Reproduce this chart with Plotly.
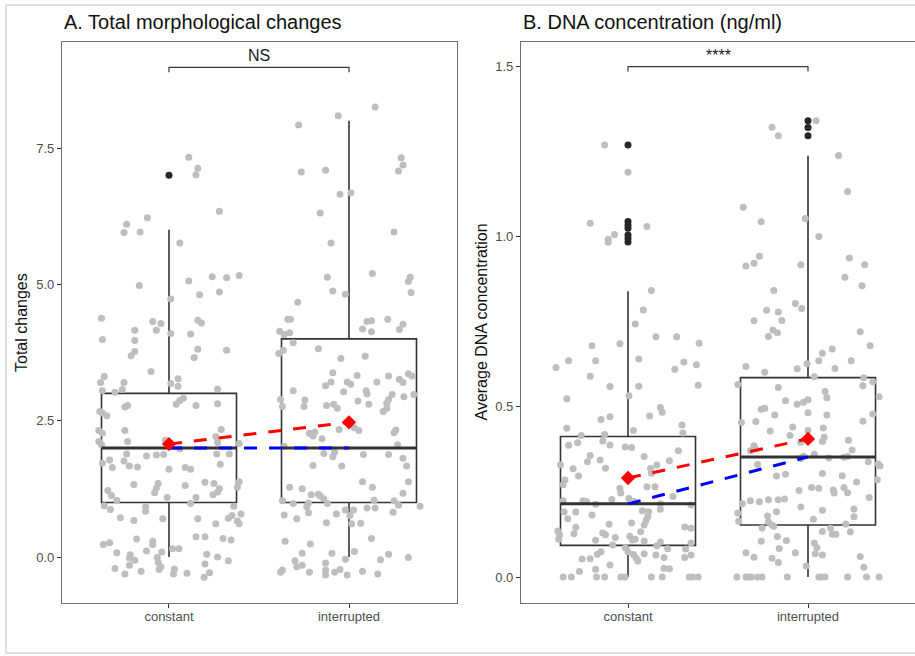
import plotly.graph_objects as go

# ---------------- data ----------------
groups = ["constant", "interrupted"]
positions = [1, 2]

# Panel A: (horizontal jitter offset, jittered total changes)
a_constant_points = [
    (0.11, 7.33), (0.16, 7.13), (0.15, 7.01), (0.28, 6.34), (-0.12, 6.22), (-0.235, 6.10), (-0.25, 5.95),
    (-0.16, 5.96), (0.06, 5.76), (-0.165, 4.98), (0.11, 5.06), (0.24, 5.14), (0.32, 5.12), (0.39, 5.16),
    (0.17, 4.81), (0.28, 4.86), (0.01, 4.73), (-0.375, 4.38), (-0.09, 4.32), (-0.045, 4.28), (0.16, 4.34),
    (0.18, 4.29), (-0.19, 4.16), (-0.07, 4.16), (-0.37, 3.99), (-0.19, 3.97), (0.01, 4.10), (0.12, 4.09),
    (-0.19, 3.77), (-0.21, 3.69), (0.16, 3.81), (0.14, 3.66), (0.32, 3.79), (-0.10, 3.40),
    (-0.36, 3.31), (-0.38, 3.20), (-0.25, 3.20), (0.01, 3.18), (0.05, 3.27), (0.05, 3.13), (-0.26, 3.07),
    (-0.37, 3.05), (-0.30, 3.02), (0.27, 3.08), (0.08, 2.91), (0.06, 2.87), (0.04, 2.80), (0.15, 2.78),
    (0.27, 2.81), (-0.23, 2.78), (-0.245, 2.75), (-0.385, 2.67), (-0.37, 2.64), (-0.345, 2.59),
    (-0.245, 2.32), (-0.39, 2.32), (-0.37, 2.27), (0.29, 2.34), (0.26, 2.21), (-0.23, 2.12), (-0.39, 2.12),
    (-0.375, 2.06), (-0.02, 2.14), (0.27, 2.10), (0.39, 2.08), (0.06, 1.98), (-0.235, 1.89), (-0.125, 1.85),
    (-0.07, 1.87), (-0.03, 1.88), (0.265, 1.89), (0.335, 1.89), (-0.33, 1.78), (-0.37, 1.72), (-0.25, 1.76),
    (-0.22, 1.67), (-0.315, 1.64), (-0.175, 1.65), (0.285, 1.70), (0.0, 1.61), (0.09, 1.64), (0.12, 1.61),
    (-0.195, 1.33), (-0.06, 1.35), (-0.07, 1.26), (-0.08, 1.18), (0.09, 1.31), (0.20, 1.37), (0.25, 1.35),
    (0.28, 1.25), (0.27, 1.19), (0.245, 1.14), (0.39, 1.38), (0.38, 1.28), (-0.34, 1.22), (-0.32, 1.13),
    (-0.29, 1.04), (-0.01, 1.09), (0.15, 1.09), (0.12, 0.98), (-0.36, 0.94), (-0.325, 0.87), (-0.13, 0.92),
    (-0.13, 0.84), (0.36, 0.93), (0.40, 0.79), (0.35, 0.76), (0.33, 0.71), (0.38, 0.66), (0.39, 0.61),
    (-0.27, 0.72), (-0.195, 0.67), (-0.035, 0.70), (0.16, 0.70), (0.26, 0.61), (-0.365, 0.23), (-0.33, 0.26),
    (-0.18, 0.33), (-0.09, 0.29), (-0.09, 0.23), (0.15, 0.37), (0.20, 0.37), (0.30, 0.34), (0.345, 0.31),
    (-0.29, 0.08), (-0.215, 0.04), (-0.22, -0.02), (-0.19, -0.06), (-0.125, 0.11), (-0.065, -0.01),
    (-0.04, 0.09), (0.02, 0.15), (0.055, 0.15), (0.21, 0.05), (0.27, 0.0), (0.33, -0.07), (0.20, -0.13),
    (-0.30, -0.21), (-0.245, -0.31), (-0.22, -0.15), (-0.155, -0.26), (-0.06, -0.10), (-0.045, -0.18),
    (-0.055, -0.23), (0.03, -0.22), (0.025, -0.31), (0.10, -0.30), (0.225, -0.29), (0.195, -0.37),
]
a_interrupted_points = [
    (0.145, 8.25), (-0.06, 8.09), (-0.28, 7.92), (0.29, 7.32), (0.30, 7.19), (0.275, 7.08), (-0.265, 7.06),
    (-0.13, 7.09), (-0.05, 6.65), (0.01, 6.68), (-0.16, 6.31), (0.25, 5.96), (-0.10, 5.76), (-0.12, 5.13),
    (0.13, 5.20), (0.34, 5.13), (0.33, 5.05), (0.345, 4.85), (-0.09, 4.88), (-0.02, 4.82), (-0.285, 4.67),
    (-0.34, 4.36), (-0.325, 4.36), (-0.385, 4.14), (-0.36, 4.08), (-0.33, 4.11), (0.10, 4.32), (0.125, 4.33),
    (0.215, 4.36), (0.075, 4.18), (0.125, 4.13), (0.30, 4.27), (0.28, 4.17), (-0.31, 3.93), (-0.39, 3.73),
    (-0.365, 3.79), (-0.17, 3.82), (-0.045, 3.64), (0.09, 3.68),
    (-0.09, 3.38), (0.045, 3.33), (0.155, 3.21), (0.22, 3.32), (0.28, 3.26), (0.30, 3.20), (0.33, 3.36),
    (0.35, 3.32), (-0.13, 3.14), (-0.10, 3.21), (-0.01, 3.21), (0.01, 3.17), (-0.31, 3.05), (-0.03, 3.03),
    (0.095, 3.05), (0.10, 2.99), (0.24, 2.98), (0.22, 2.89), (0.305, 2.94), (0.36, 2.98), (-0.38, 2.89),
    (-0.37, 2.76), (-0.245, 2.88), (-0.25, 2.76), (-0.125, 2.78), (-0.085, 2.80), (-0.065, 2.73),
    (0.05, 2.86), (0.11, 2.80), (0.21, 2.82), (0.21, 2.73), (0.19, 2.67), (-0.22, 2.27), (-0.20, 2.22),
    (-0.19, 2.29), (-0.15, 2.17), (-0.055, 2.34), (0.03, 2.37), (0.055, 2.32), (0.25, 2.28), (0.26, 2.33),
    (0.27, 2.06), (-0.36, 2.03), (-0.14, 1.90), (-0.09, 1.84), (-0.08, 1.92), (0.08, 1.88), (0.22, 1.88),
    (0.30, 1.81), (0.32, 1.67), (-0.20, 1.68), (-0.04, 1.67), (0.075, 1.38), (0.13, 1.28), (0.33, 1.38),
    (0.30, 1.17), (-0.33, 1.28), (-0.26, 1.25), (-0.21, 1.14), (-0.17, 1.15), (-0.16, 1.12), (-0.14, 1.07),
    (-0.12, 0.98), (-0.225, 0.99), (-0.235, 0.92), (-0.31, 0.98), (-0.37, 1.03), (-0.225, 0.81),
    (-0.36, 0.77), (-0.29, 0.70), (-0.125, 0.63), (-0.07, 0.79), (-0.02, 0.86), (0.025, 0.86), (0.005, 0.76),
    (0.015, 0.61), (0.065, 0.62), (0.10, 0.90), (0.145, 0.90), (0.14, 1.04), (0.245, 0.82), (0.25, 1.03),
    (0.275, 0.95), (0.395, 0.93), (-0.355, 0.29), (-0.215, 0.24), (0.125, 0.34), (-0.26, 0.07),
    (-0.30, -0.07), (-0.29, -0.18), (-0.26, -0.15), (-0.38, -0.28), (-0.37, -0.24), (-0.22, -0.28),
    (-0.13, -0.11), (-0.095, 0.07), (-0.13, -0.24), (-0.13, -0.33), (-0.08, -0.28), (-0.05, -0.23),
    (-0.01, -0.33), (-0.02, -0.04), (0.03, 0.10), (0.075, -0.26), (0.16, -0.31), (0.175, -0.05),
    (0.22, 0.05), (0.33, -0.01),
]
a_q1 = [1, 1]
a_median = [2, 2]
a_q3 = [3, 4]
a_whisker_low = [0, 0]
a_whisker_high = [6, 8]
a_mean = [2.07, 2.47]
a_outliers = [[7.0], []]
a_bracket_y = 8.98
a_bracket_tip = 0.09
a_label = "NS"
a_label_y = 9.2

# Panel B: (horizontal jitter offset, DNA concentration)
b_constant_points = [
    (-0.13, 1.27), (0.0, 1.19), (-0.21, 1.04), (0.105, 1.03), (-0.075, 1.007), (-0.11, 0.993), (-0.11, 0.984),
    (0.13, 0.842), (0.085, 0.785), (0.04, 0.744), (0.155, 0.706), (0.27, 0.706), (0.395, 0.687), (-0.2, 0.68),
    (-0.045, 0.686), (-0.33, 0.636), (-0.18, 0.636), (0.06, 0.641), (0.31, 0.632), (0.38, 0.624),
    (-0.40, 0.616), (0.26, 0.611),
    (-0.21, 0.590), (-0.10, 0.560), (0.06, 0.561), (0.39, 0.564), (-0.34, 0.524), (0.005, 0.533),
    (0.18, 0.498), (0.19, 0.484), (0.12, 0.473), (-0.15, 0.463), (-0.10, 0.471), (-0.34, 0.437),
    (0.03, 0.431), (0.30, 0.447), (0.305, 0.423), (-0.26, 0.416), (-0.13, 0.419), (-0.33, 0.387),
    (-0.28, 0.395), (-0.14, 0.40), (-0.10, 0.388), (-0.015, 0.382), (0.02, 0.381), (0.28, 0.371),
    (-0.21, 0.357), (0.09, 0.354), (-0.225, 0.339), (-0.155, 0.344), (0.23, 0.342), (-0.375, 0.330),
    (0.16, 0.329), (-0.305, 0.318), (-0.125, 0.320), (0.125, 0.319), (0.13, 0.305), (-0.275, 0.297),
    (-0.35, 0.285), (-0.36, 0.271), (0.105, 0.265), (0.15, 0.265), (-0.045, 0.261), (-0.04, 0.247),
    (0.25, 0.237), (-0.36, 0.224), (-0.25, 0.224), (-0.23, 0.222), (-0.18, 0.214), (-0.09, 0.228),
    (0.005, 0.231), (0.035, 0.222), (0.18, 0.215), (0.18, 0.199), (0.35, 0.212), (-0.355, 0.192),
    (-0.29, 0.191), (-0.335, 0.171), (-0.20, 0.182), (0.08, 0.195), (0.115, 0.192), (0.11, 0.178),
    (0.10, 0.166), (0.02, 0.159), (0.09, 0.153), (-0.105, 0.155), (-0.29, 0.146), (-0.39, 0.135),
    (-0.38, 0.124), (-0.385, 0.111), (-0.30, 0.127), (-0.14, 0.129), (-0.125, 0.124), (-0.07, 0.116),
    (-0.18, 0.108), (0.01, 0.120), (0.025, 0.109), (0.04, 0.111), (0.09, 0.106), (0.07, 0.133),
    (0.315, 0.147), (0.35, 0.143), (0.35, 0.10), (0.18, 0.103), (0.16, 0.092), (-0.085, 0.094),
    (-0.015, 0.086), (0.0, 0.074), (0.03, 0.066), (0.045, 0.056), (0.055, 0.047), (-0.255, 0.053),
    (-0.21, 0.054), (-0.17, 0.067), (-0.15, 0.074), (-0.10, 0.035), (-0.18, 0.023), (-0.27, 0.016),
    (0.09, 0.068), (0.155, 0.065), (0.20, 0.057), (0.22, 0.083), (0.32, 0.082), (0.315, 0.057),
    (0.35, 0.065), (0.20, 0.026), (0.23, 0.024),
    (-0.36, 0.0), (-0.315, 0.0), (-0.175, 0.0), (-0.13, 0.0), (-0.04, 0.0), (-0.017, 0.0), (0.13, 0.0),
    (0.19, 0.0), (0.34, 0.0), (0.36, 0.0), (0.39, 0.0),
]
b_interrupted_points = [
    (0.045, 1.341), (-0.20, 1.322), (-0.165, 1.297), (0.17, 1.239), (0.22, 1.133), (-0.36, 1.087),
    (-0.26, 1.044), (-0.015, 1.054), (0.06, 1.001), (-0.27, 0.943), (-0.30, 0.922), (-0.345, 0.914),
    (-0.04, 0.918), (0.23, 0.938), (0.315, 0.918), (0.205, 0.881), (0.30, 0.856), (-0.19, 0.842),
    (-0.07, 0.804), (-0.035, 0.789), (-0.23, 0.784), (-0.165, 0.779), (-0.30, 0.753), (-0.145, 0.754),
    (-0.195, 0.726), (-0.17, 0.718), (-0.22, 0.707), (0.29, 0.721), (0.345, 0.680), (0.135, 0.670),
    (0.08, 0.658), (0.06, 0.636), (-0.005, 0.627), (0.24, 0.636), (-0.345, 0.619), (-0.06, 0.612),
    (0.15, 0.613),
    (-0.24, 0.602), (0.035, 0.589), (0.31, 0.586), (0.36, 0.574), (0.305, 0.562), (-0.39, 0.566),
    (-0.165, 0.557), (0.095, 0.545), (0.105, 0.527), (0.395, 0.530), (-0.125, 0.518), (-0.06, 0.508),
    (-0.025, 0.514), (0.0, 0.521), (-0.26, 0.493), (-0.24, 0.496), (-0.185, 0.476), (0.0, 0.483),
    (0.105, 0.476), (0.36, 0.479), (-0.37, 0.454), (-0.29, 0.457), (0.305, 0.458), (-0.085, 0.441),
    (0.085, 0.438), (-0.21, 0.429), (0.0, 0.431), (-0.10, 0.416), (0.09, 0.411), (0.08, 0.398),
    (-0.04, 0.396), (0.225, 0.402), (-0.30, 0.386), (-0.32, 0.371), (-0.29, 0.376), (0.245, 0.373),
    (-0.04, 0.348), (-0.025, 0.355), (0.035, 0.361), (0.115, 0.350), (0.20, 0.352), (0.22, 0.354),
    (0.335, 0.339), (0.39, 0.332), (0.40, 0.326), (-0.28, 0.331), (-0.175, 0.297), (-0.125, 0.302),
    (0.08, 0.304), (0.19, 0.298), (0.27, 0.279), (0.385, 0.286), (-0.05, 0.254), (0.02, 0.263),
    (0.06, 0.261), (0.14, 0.256), (0.145, 0.247), (0.20, 0.263), (0.22, 0.248), (0.34, 0.234),
    (-0.365, 0.215), (-0.32, 0.224), (-0.27, 0.221), (-0.22, 0.227), (-0.165, 0.227), (-0.13, 0.229),
    (-0.04, 0.206), (0.08, 0.196), (0.255, 0.20), (0.255, 0.177), (-0.39, 0.188), (-0.385, 0.164),
    (-0.175, 0.192), (-0.225, 0.179), (0.03, 0.170), (-0.22, 0.162), (-0.20, 0.153), (-0.19, 0.149),
    (-0.255, 0.144), (0.21, 0.156), (0.235, 0.133), (0.08, 0.134), (0.125, 0.143), (0.135, 0.126),
    (0.155, 0.126), (-0.17, 0.119), (-0.12, 0.107), (-0.26, 0.105), (-0.16, 0.084), (-0.165, 0.043),
    (-0.20, 0.055), (-0.30, 0.058), (-0.345, 0.071), (-0.07, 0.071), (0.035, 0.10), (0.05, 0.086),
    (0.04, 0.068), (0.08, 0.065), (-0.01, 0.032), (0.29, 0.06), (0.31, 0.029),
    (-0.395, 0.0), (-0.345, 0.0), (-0.33, 0.0), (-0.315, 0.0), (-0.28, 0.0), (-0.255, 0.0), (-0.115, 0.0),
    (0.06, 0.0), (0.075, 0.0), (0.095, 0.0), (0.22, 0.0), (0.325, 0.0), (0.395, 0.0),
]
b_q1 = [0.093, 0.153]
b_median = [0.215, 0.353]
b_q3 = [0.413, 0.586]
b_whisker_low = [0.0, 0.0]
b_whisker_high = [0.84, 1.238]
b_mean = [0.291, 0.406]
b_outliers = [[1.27, 1.045, 1.035, 1.025, 1.005, 0.995, 0.985], [1.341, 1.321, 1.297]]
b_bracket_y = 1.5
b_bracket_tip = 0.014
b_label = "****"
b_label_y = 1.533

# ---------------- style ----------------
FONT = "Liberation Sans, Arial, sans-serif"
BOX_W = 0.75
BOX_COLOR = "#333333"
POINT_COLOR = "#BEBEBE"
DASH = "13px,12px"

W, H = 915, 656
fig = go.Figure()


def add_panel(xa, ya, points_by_group, q1, med, q3, lo, hi, mean, outliers,
              bracket_y, tip, label, label_y):
    for i, pos in enumerate(positions):
        fig.add_trace(go.Box(
            x=[pos], q1=[q1[i]], median=[med[i]], q3=[q3[i]],
            lowerfence=[lo[i]], upperfence=[hi[i]], width=BOX_W, whiskerwidth=0,
            line=dict(color=BOX_COLOR, width=1.6), fillcolor="rgba(0,0,0,0)",
            boxpoints=False, xaxis=xa, yaxis=ya, showlegend=False, hoverinfo="skip"))
        if outliers[i]:
            fig.add_trace(go.Scatter(
                x=[pos] * len(outliers[i]), y=outliers[i], mode="markers",
                marker=dict(color="#262626", size=7), xaxis=xa, yaxis=ya,
                showlegend=False, hoverinfo="skip"))
    for i, pos in enumerate(positions):
        pts = points_by_group[i]
        fig.add_trace(go.Scatter(
            x=[pos + dx for dx, _ in pts], y=[v for _, v in pts], mode="markers",
            marker=dict(color=POINT_COLOR, size=7, line=dict(width=0)),
            xaxis=xa, yaxis=ya, showlegend=False, hoverinfo="skip"))
    for i, pos in enumerate(positions):
        fig.add_trace(go.Scatter(
            x=[pos - BOX_W / 2, pos + BOX_W / 2], y=[med[i], med[i]], mode="lines",
            line=dict(color=BOX_COLOR, width=3), xaxis=xa, yaxis=ya,
            showlegend=False, hoverinfo="skip"))
    fig.add_trace(go.Scatter(
        x=positions, y=med, mode="lines", line=dict(color="#0000FF", width=3, dash=DASH),
        xaxis=xa, yaxis=ya, showlegend=False, hoverinfo="skip"))
    fig.add_trace(go.Scatter(
        x=positions, y=mean, mode="lines", line=dict(color="#FF0000", width=3, dash=DASH),
        xaxis=xa, yaxis=ya, showlegend=False, hoverinfo="skip"))
    fig.add_trace(go.Scatter(
        x=positions, y=mean, mode="markers",
        marker=dict(color="#FF0000", size=11, symbol="diamond", line=dict(width=0)),
        xaxis=xa, yaxis=ya, showlegend=False, hoverinfo="skip"))
    fig.add_trace(go.Scatter(
        x=[positions[0], positions[0], positions[1], positions[1]],
        y=[bracket_y - tip, bracket_y, bracket_y, bracket_y - tip], mode="lines",
        line=dict(color="#3a3a3a", width=1.2), xaxis=xa, yaxis=ya,
        showlegend=False, hoverinfo="skip"))
    fig.add_annotation(x=sum(positions) / 2, y=label_y, xref=xa, yref=ya, text=label,
                       showarrow=False, font=dict(family=FONT, size=16, color="#1a1a1a"),
                       xanchor="center", yanchor="middle")


add_panel("x", "y", [a_constant_points, a_interrupted_points], a_q1, a_median, a_q3,
          a_whisker_low, a_whisker_high, a_mean, a_outliers, a_bracket_y, a_bracket_tip,
          a_label, a_label_y)
add_panel("x2", "y2", [b_constant_points, b_interrupted_points], b_q1, b_median, b_q3,
          b_whisker_low, b_whisker_high, b_mean, b_outliers, b_bracket_y, b_bracket_tip,
          b_label, b_label_y)

axis_common = dict(showgrid=False, zeroline=False, showline=True, linecolor="#707070", linewidth=1.3,
                   ticks="outside", ticklen=4, tickwidth=1.1, tickcolor="#333333",
                   tickfont=dict(family=FONT, size=13, color="#4d4d4d"))
xaxis_extra = dict(ticklabelstandoff=-3)
ydom = [53 / H, 614 / H]

fig.update_layout(
    width=W, height=H, margin=dict(l=0, r=0, t=0, b=0, autoexpand=False),
    paper_bgcolor="white", plot_bgcolor="white", showlegend=False,
    font=dict(family=FONT),
    xaxis=dict(domain=[62 / W, 457 / W], range=[0.4056, 2.6], tickvals=positions, ticktext=groups,
               mirror=True, anchor="y", **axis_common, **xaxis_extra),
    yaxis=dict(domain=ydom, range=[-0.8436, 9.444], dtick=2.5, tick0=0, tickformat=".1f",
               mirror=True, anchor="x", **axis_common),
    xaxis2=dict(domain=[521 / W, 1.0], range=[0.4056, 2.5944], tickvals=positions, ticktext=groups,
                mirror=True, anchor="y2", **axis_common, **xaxis_extra),
    yaxis2=dict(domain=ydom, range=[-0.0764, 1.5726], dtick=0.5, tick0=0, tickformat=".1f",
                mirror=False, anchor="x2", **axis_common),
)

title_font = dict(family=FONT, size=20, color="#111111")
fig.add_annotation(x=62 / W, y=1 - 22 / H, xref="paper", yref="paper", text="A. Total morphological changes",
                   showarrow=False, xanchor="left", yanchor="middle", font=title_font)
fig.add_annotation(x=521 / W, y=1 - 22 / H, xref="paper", yref="paper", text="B. DNA concentration (ng/ml)",
                   showarrow=False, xanchor="left", yanchor="middle", font=title_font)
ytitle_font = dict(family=FONT, size=16, color="#111111")
fig.add_annotation(x=21.5 / W, y=1 - 322.5 / H, xref="paper", yref="paper", text="Total changes",
                   showarrow=False, textangle=-90, xanchor="center", yanchor="middle", font=ytitle_font)
fig.add_annotation(x=481 / W, y=1 - 322.5 / H, xref="paper", yref="paper", text="Average DNA concentration",
                   showarrow=False, textangle=-90, xanchor="center", yanchor="middle", font=ytitle_font)

# light outer frame of the original image
fig.add_shape(type="rect", xref="paper", yref="paper", x0=6 / W, x1=1.05, y0=3 / H, y1=1 - 5 / H,
              line=dict(color="#d6d6d6", width=1.5), fillcolor="rgba(0,0,0,0)", layer="below")

fig.write_html("out.html", config={"displayModeBar": False},
               post_script="document.body.style.margin='0';document.body.style.overflow='hidden';")
